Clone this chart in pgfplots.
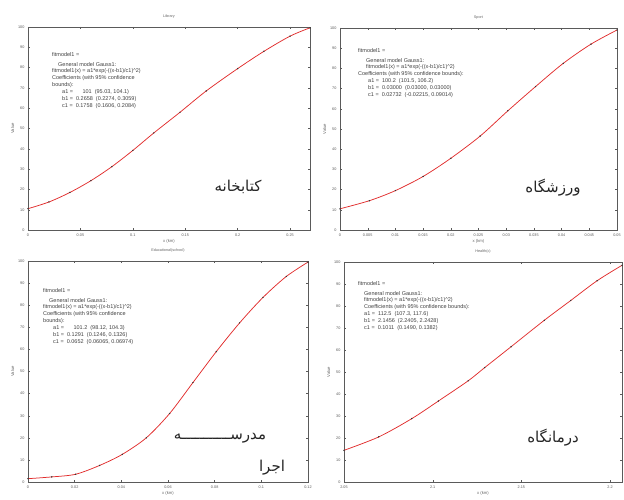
\documentclass[border=0pt]{standalone}
\usepackage{pgfplots}
\pgfplotsset{compat=1.18}
\usepackage{fontspec}
\setmainfont{Liberation Sans}
\newfontfamily\arabicfont[Script=Arabic]{DejaVu Sans}
\TeXXeTstate=1
\definecolor{fitred}{RGB}{225,45,45}
\definecolor{axgray}{RGB}{90,90,90}

\pgfplotstableread{
x y
0 10.5
0.02 13.8
0.04 18.5
0.06 24.3
0.08 31.2
0.1 39.2
0.12 47.8
0.145 58
0.17 68.5
0.2 79.5
0.225 88
0.25 95.5
0.269 99.6
}\libdata
\pgfplotstableread{
x y
0 10.5
0.0053 14.5
0.01 19.5
0.015 26.5
0.02 35.5
0.0253 46.5
0.0303 59
0.0353 71
0.0403 82.5
0.0453 92
0.05 99
}\sportdata
\pgfplotstableread{
x y
0 1.5
0.0102 2.3
0.0204 3.5
0.0307 7.5
0.0404 12.5
0.0507 20
0.0607 31
0.0707 45
0.0807 59
0.0907 72
0.1007 83.5
0.1107 93
0.12 99.5
}\schooldata
\pgfplotstableread{
x y
2.05 14.4
2.0696 20.5
2.0882 28.8
2.1032 36.8
2.12 46
2.1293 52
2.1442 61.5
2.1629 73.5
2.1778 82.5
2.1927 91.5
2.2067 98.5
}\clinicdata

\pgfplotsset{
  panel/.style={
    scale only axis, anchor=south west,
    axis line style={axgray, line width=0.45pt},
    tick style={axgray, line width=0.35pt},
    major tick length=2pt, tick align=inside,
    ticklabel style={font=\fontsize{3.8}{4}\selectfont, text=black!65},
    /pgf/number format/assume math mode=true,
    scaled x ticks=false,
    xticklabel style={/pgf/number format/fixed, /pgf/number format/precision=3},
    ymin=0, ymax=100, ytick={0,10,...,100},
    title style={font=\fontsize{3.8}{4}\selectfont, text=black!60, at={(0.5,1)}, anchor=south, yshift=-0.5pt},
    ylabel={Value},
    ylabel style={font=\fontsize{4.2}{4}\selectfont, text=black!60, yshift=-3pt},
    xlabel={x (km)},
    xlabel style={font=\fontsize{4.2}{4}\selectfont, text=black!60, yshift=4pt},
  },
  fitline/.style={fitred, line width=0.75pt, smooth},
  dots/.style={only marks, mark=*, mark size=0.45pt, black!80},
}

\begin{document}
\begin{tikzpicture}
\useasboundingbox (0pt,0pt) rectangle (624pt,500pt);

% top-left: library
\begin{axis}[panel, at={(28pt,270pt)}, width=282pt, height=203pt,
  xmin=0, xmax=0.269, xtick={0,0.05,0.1,0.15,0.2,0.25}, title={Library}]
  \addplot[fitline] table[x=x,y=y] {\libdata};
  \addplot[dots] table[x=x,y=y] {\libdata};
\end{axis}

% top-right: sport
\begin{axis}[panel, at={(340pt,270pt)}, width=277pt, height=202pt,
  xmin=0, xmax=0.05, xtick={0,0.005,...,0.05}, title={Sport}]
  \addplot[fitline] table[x=x,y=y] {\sportdata};
  \addplot[dots] table[x=x,y=y] {\sportdata};
\end{axis}

% bottom-left: school
\begin{axis}[panel, at={(28pt,18pt)}, width=280pt, height=221pt,
  xmin=0, xmax=0.12, xtick={0,0.02,...,0.12}, title={Educational(school)}]
  \addplot[fitline] table[x=x,y=y] {\schooldata};
  \addplot[dots] table[x=x,y=y] {\schooldata};
\end{axis}

% bottom-right: clinic
\begin{axis}[panel, at={(344pt,18pt)}, width=278pt, height=220pt,
  xmin=2.05, xmax=2.2067, xtick={2.05,2.1,2.15,2.2}, title={Health(c)},
  axis line style={axgray, line width=0.5pt}]
  \addplot[fitline] table[x=x,y=y] {\clinicdata};
  \addplot[dots] table[x=x,y=y] {\clinicdata};
\end{axis}

% coefficient boxes
\begin{scope}[every node/.style={anchor=north west, align=left, text=black!75,
    font=\fontsize{5.5}{6.9}\selectfont, inner sep=0pt}]
\node at (52pt,448pt) {fitmodel1 =\\[3pt]
\hspace{6pt}General model Gauss1:\\
fitmodel1(x) = a1*exp(-((x-b1)/c1)\textasciicircum 2)\\
Coefficients (with 95\% confidence\\
bounds):\\
\hspace{10pt}a1 = \hspace{8pt}101 \ (95.03, 104.1)\\
\hspace{10pt}b1 = \ 0.2658 \ (0.2274, 0.3059)\\
\hspace{10pt}c1 = \ 0.1758 \ (0.1606, 0.2084)};

\node at (358pt,452pt) {fitmodel1 =\\[3pt]
\hspace{8pt}General model Gauss1:\\
\hspace{8pt}fitmodel1(x) = a1*exp(-((x-b1)/c1)\textasciicircum 2)\\
Coefficients (with 95\% confidence bounds):\\
\hspace{10pt}a1 = \ 100.2 \ (101.5, 106.2)\\
\hspace{10pt}b1 = \ 0.03000 \ (0.03000, 0.03000)\\
\hspace{10pt}c1 = \ 0.02732 \ (-0.02215, 0.09014)};

\node at (43pt,212pt) {fitmodel1 =\\[3pt]
\hspace{6pt}General model Gauss1:\\
fitmodel1(x) = a1*exp(-((x-b1)/c1)\textasciicircum 2)\\
Coefficients (with 95\% confidence\\
bounds):\\
\hspace{10pt}a1 = \hspace{8pt}101.2 \ (98.12, 104.3)\\
\hspace{10pt}b1 = \ 0.1291 \ (0.1246, 0.1326)\\
\hspace{10pt}c1 = \ 0.0652 \ (0.06065, 0.06974)};

\node at (358pt,219pt) {fitmodel1 =\\[3pt]
\hspace{6pt}General model Gauss1:\\
\hspace{6pt}fitmodel1(x) = a1*exp(-((x-b1)/c1)\textasciicircum 2)\\
\hspace{6pt}Coefficients (with 95\% confidence bounds):\\
\hspace{6pt}a1 = \ 112.5 \ (107.3, 117.6)\\
\hspace{6pt}b1 = \ 2.1456 \ (2.2405, 2.2428)\\
\hspace{6pt}c1 = \ 0.1011 \ (0.1490, 0.1382)};
\end{scope}

% Persian labels
\begin{scope}[every node/.style={font=\arabicfont\fontsize{15}{16}\selectfont, text=black!85, inner sep=0pt}]
\node at (238pt,313pt) {\beginR کتابخانه\endR};
\node at (553pt,312pt) {\beginR ورزشگاه\endR};
\node at (220pt,62pt) {\beginR مدرســـــــــــه\endR};
\node at (553pt,62pt) {\beginR درمانگاه\endR};
\node at (272pt,32pt) {\beginR اجرا\endR};
\end{scope}
\end{tikzpicture}
\end{document}
